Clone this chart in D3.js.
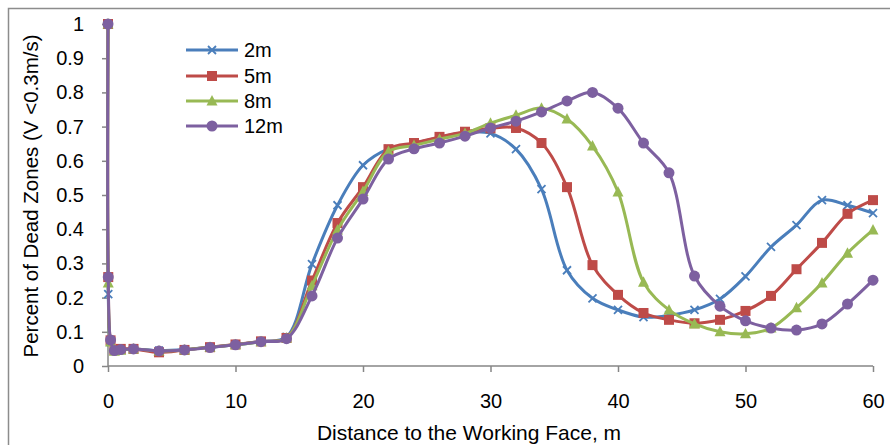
<!DOCTYPE html>
<html><head><meta charset="utf-8">
<script src="https://cdn.jsdelivr.net/npm/d3@7"></script>
<style>body{margin:0;background:#fff}svg{display:block}text{font-family:"Liberation Sans",Arial,sans-serif;fill:#000}</style>
</head><body>
<script>
const distances = [0, 0.02, 0.2, 0.5, 1, 2, 4, 6, 8, 10, 12, 14, 16, 18, 20, 22, 24, 26, 28, 30, 32, 34, 36, 38, 40, 42, 44, 46, 48, 50, 52, 54, 56, 58, 60];
const series2m = [1, 0.21, 0.07, 0.045, 0.048, 0.05, 0.045, 0.048, 0.055, 0.062, 0.072, 0.085, 0.298, 0.47, 0.587, 0.635, 0.651, 0.668, 0.683, 0.68, 0.634, 0.517, 0.28, 0.198, 0.164, 0.143, 0.148, 0.164, 0.196, 0.262, 0.348, 0.412, 0.485, 0.47, 0.447];
const series5m = [1, 0.26, 0.075, 0.047, 0.05, 0.05, 0.04, 0.047, 0.055, 0.063, 0.072, 0.082, 0.25, 0.418, 0.523, 0.634, 0.652, 0.67, 0.685, 0.695, 0.696, 0.652, 0.523, 0.295, 0.208, 0.155, 0.135, 0.125, 0.135, 0.161, 0.205, 0.283, 0.36, 0.445, 0.485];
const series8m = [1, 0.243, 0.07, 0.043, 0.046, 0.05, 0.044, 0.047, 0.055, 0.062, 0.071, 0.082, 0.235, 0.398, 0.51, 0.627, 0.645, 0.663, 0.68, 0.71, 0.733, 0.754, 0.722, 0.643, 0.509, 0.245, 0.164, 0.123, 0.10, 0.094, 0.111, 0.17, 0.243, 0.33, 0.398];
const series12m = [1, 0.26, 0.076, 0.045, 0.048, 0.05, 0.044, 0.047, 0.054, 0.062, 0.071, 0.08, 0.205, 0.374, 0.488, 0.605, 0.635, 0.652, 0.672, 0.696, 0.716, 0.743, 0.775, 0.80, 0.754, 0.652, 0.565, 0.263, 0.175, 0.132, 0.111, 0.105, 0.123, 0.181, 0.251];
const seriesNames = ["2m", "5m", "8m", "12m"];
const seriesColors = ["#4A7EBB", "#BE4B48", "#98B954", "#7D60A0"];
const seriesMarkers = ["x", "square", "triangle", "circle"];
const xTicks = [0, 10, 20, 30, 40, 50, 60];
const yTicks = [0, 0.1, 0.2, 0.3, 0.4, 0.5, 0.6, 0.7, 0.8, 0.9, 1];
const xTitle = "Distance to the Working Face, m";
const yTitle = "Percent of Dead Zones (V <0.3m/s)";

const W = 890, H = 445;
const svg = d3.select("body").append("svg").attr("width", W).attr("height", H);
svg.append("rect").attr("x", 8.5).attr("y", 8.5).attr("width", W + 20).attr("height", H + 20)
  .attr("fill", "#fff").attr("stroke", "#8c8c8c").attr("stroke-width", 1.5);

const x = d3.scaleLinear().domain([0, 60]).range([108, 873]);
const y = d3.scaleLinear().domain([0, 1]).range([366, 24]);
const axisColor = "#868686";

const gx = svg.append("g").attr("transform", "translate(0,366)")
  .call(d3.axisBottom(x).tickValues(xTicks).tickSize(6).tickPadding(22).tickFormat(d3.format("d")));
const gy = svg.append("g").attr("transform", "translate(108,0)")
  .call(d3.axisLeft(y).tickValues(yTicks).tickSize(6).tickPadding(18).tickFormat(d => d === 0 ? "0" : d === 1 ? "1" : d3.format(".1f")(d)));
[gx, gy].forEach(g => {
  g.select(".domain").attr("stroke", axisColor).attr("stroke-width", 1.5);
  g.selectAll(".tick line").attr("stroke", axisColor).attr("stroke-width", 1.5);
  g.selectAll(".tick text").attr("font-size", 20).attr("font-family", "Liberation Sans, Arial, sans-serif").attr("fill", "#000");
});
gy.select(".domain").attr("d", "M0,366V24");
gx.select(".domain").attr("d", "M108,0H873");

svg.append("text").attr("x", 469).attr("y", 440).attr("text-anchor", "middle").attr("font-size", 21).text(xTitle);
svg.append("text").attr("transform", "translate(38,196) rotate(-90)").attr("text-anchor", "middle").attr("font-size", 20.5).text(yTitle);

const allSeries = [series2m, series5m, series8m, series12m];
const line = d3.line().x(d => x(d[0])).y(d => y(d[1])).curve(d3.curveCatmullRom.alpha(0.5));

function drawMarker(g, type, color, cx, cy) {
  if (type === "x") {
    const s = 4;
    g.append("path").attr("d", `M${cx - s},${cy - s}L${cx + s},${cy + s}M${cx - s},${cy + s}L${cx + s},${cy - s}`)
      .attr("stroke", color).attr("stroke-width", 1.8).attr("fill", "none");
  } else if (type === "square") {
    g.append("rect").attr("x", cx - 5).attr("y", cy - 5).attr("width", 10).attr("height", 10).attr("fill", color);
  } else if (type === "triangle") {
    g.append("path").attr("d", `M${cx},${cy - 6}L${cx + 5.5},${cy + 4.5}L${cx - 5.5},${cy + 4.5}Z`).attr("fill", color);
  } else {
    g.append("circle").attr("cx", cx).attr("cy", cy).attr("r", 5.5).attr("fill", color);
  }
}

allSeries.forEach((vals, i) => {
  const pts = distances.map((d, j) => [d, vals[j]]);
  const g = svg.append("g");
  g.append("path").datum(pts).attr("d", line).attr("fill", "none").attr("stroke", seriesColors[i]).attr("stroke-width", 3);
  pts.forEach(p => drawMarker(g, seriesMarkers[i], seriesColors[i], x(p[0]), y(p[1])));
});

const legendY = [50, 76, 101, 126];
seriesNames.forEach((n, i) => {
  const g = svg.append("g");
  g.append("line").attr("x1", 186).attr("x2", 238).attr("y1", legendY[i]).attr("y2", legendY[i])
    .attr("stroke", seriesColors[i]).attr("stroke-width", 3);
  drawMarker(g, seriesMarkers[i], seriesColors[i], 212, legendY[i]);
  g.append("text").attr("x", 244).attr("y", legendY[i] + 7).attr("font-size", 20).text(n);
});
</script>
</body></html>
